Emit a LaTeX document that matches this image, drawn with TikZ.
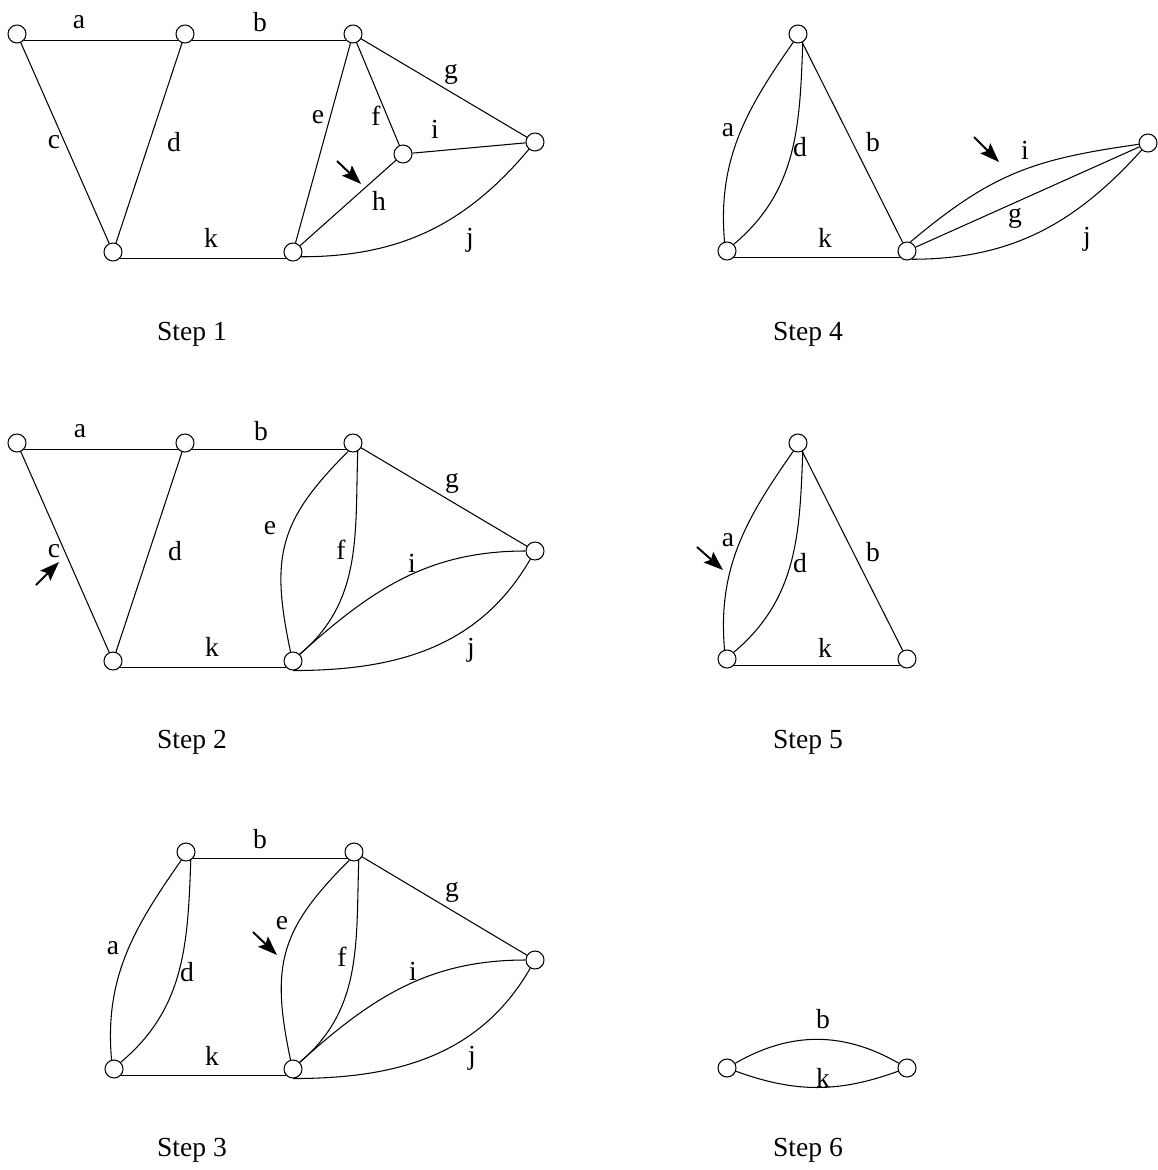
\documentclass[tikz,border=0pt]{standalone}
\usepackage{fontspec}
\setmainfont{Liberation Serif}
\usetikzlibrary{arrows.meta}

\begin{document}
\begin{tikzpicture}[
    x=0.02cm, y=0.02cm,
    vtx/.style={circle, draw, fill=white, line width=0.6pt, minimum size=0.36cm, inner sep=0pt},
    wire/.style={line width=0.6pt},
    larc/.style={out=235, in=95},
    earc/.style={out=225, in=102, looseness=1.2},
    rarc/.style={out=268, in=40},
    lbl/.style={inner sep=0pt, font=\fontsize{15.7}{18}\selectfont},
    pointer/.style={-{Stealth[length=11pt, width=8pt, inset=2pt]}, line width=1.1pt}
]
\useasboundingbox (0,0) rectangle (1157,-1170);

% Step 1
\node[vtx] (s1p) at (17,-34) {};
\node[vtx] (s1q) at (185,-34) {};
\node[vtx] (s1r) at (353,-34) {};
\node[vtx] (s1s) at (535,-142) {};
\node[vtx] (s1m) at (403,-154) {};
\node[vtx] (s1u) at (113,-252) {};
\node[vtx] (s1v) at (293,-252) {};

\draw[wire] (s1p.-40) -- (s1q.-140);
\draw[wire] (s1q.-40) -- (s1r.-140);
\draw[wire] (s1u.-40) -- (s1v.-140);
\foreach \i/\j in {s1p/s1u,s1q/s1u,s1r/s1v,s1r/s1m,s1r/s1s,s1m/s1s,s1m/s1v}{\draw[wire] (\i) -- (\j);}
\draw[wire] (s1v.-30) to[out=0, in=230] (s1s);

\node[lbl] (l1a) at (79,-22) {a};
\node[lbl] (l1b) at (260,-22) {b};
\node[lbl] (l1c) at (54,-142) {c};
\node[lbl] (l1d) at (174,-142) {d};
\node[lbl] (l1e) at (318,-117) {e};
\node[lbl] (l1f) at (376,-116) {f};
\node[lbl] (l1g) at (451,-74) {g};
\node[lbl] (l1i) at (435,-129) {i};
\node[lbl] (l1h) at (379,-201) {h};
\node[lbl] (l1j) at (470,-240) {j};
\node[lbl] (l1k) at (211,-238) {k};

\coordinate (t1) at (337,-161);
\coordinate (h1) at (361,-184);
\draw[pointer] (t1) -- (h1);

\node[lbl] (cap1) at (192,-334) {Step 1};

% Step 2
\node[vtx] (s2p) at (17,-443) {};
\node[vtx] (s2q) at (185,-443) {};
\node[vtx] (s2r) at (353,-443) {};
\node[vtx] (s2s) at (535,-551) {};
\node[vtx] (s2u) at (113,-661) {};
\node[vtx] (s2v) at (293,-661) {};

\draw[wire] (s2p.-40) -- (s2q.-140);
\draw[wire] (s2q.-40) -- (s2r.-140);
\draw[wire] (s2u.-40) -- (s2v.-140);
\foreach \i/\j in {s2p/s2u,s2q/s2u,s2r/s2s}{\draw[wire] (\i) -- (\j);}
\draw[wire] (s2r.-120) to[earc] (s2v.105);
\draw[wire] (s2r.-60) to[rarc] (s2v.45);
\draw[wire] (s2v.45) to[out=42, in=180] (s2s);
\draw[wire] (s2v.south) to[out=0, in=240] (s2s);

\node[lbl] (l2a) at (80,-431) {a};
\node[lbl] (l2b) at (261,-431) {b};
\node[lbl] (l2c) at (54,-551) {c};
\node[lbl] (l2d) at (175,-551) {d};
\node[lbl] (l2e) at (270,-528) {e};
\node[lbl] (l2f) at (341,-550) {f};
\node[lbl] (l2g) at (452,-483) {g};
\node[lbl] (l2i) at (412,-563) {i};
\node[lbl] (l2j) at (471,-650) {j};
\node[lbl] (l2k) at (212,-647) {k};

\coordinate (t2) at (36,-585);
\coordinate (h2) at (59,-562);
\draw[pointer] (t2) -- (h2);

\node[lbl] (cap2) at (192,-742) {Step 2};

% Step 3
\node[vtx] (s3q) at (186,-852) {};
\node[vtx] (s3r) at (354,-852) {};
\node[vtx] (s3s) at (535,-960) {};
\node[vtx] (s3u) at (114,-1069) {};
\node[vtx] (s3v) at (293,-1069) {};

\draw[wire] (s3q.-40) -- (s3r.-140);
\draw[wire] (s3u.-40) -- (s3v.-140);
\draw[wire] (s3r) -- (s3s);
\draw[wire] (s3q.-120) to[larc] (s3u.105);
\draw[wire] (s3q.-60) to[rarc] (s3u.45);
\draw[wire] (s3r.-120) to[earc] (s3v.105);
\draw[wire] (s3r.-60) to[rarc] (s3v.45);
\draw[wire] (s3v.45) to[out=42, in=180] (s3s);
\draw[wire] (s3v.south) to[out=0, in=240] (s3s);

\node[lbl] (l3a) at (113,-948) {a};
\node[lbl] (l3b) at (260,-839) {b};
\node[lbl] (l3d) at (187,-972) {d};
\node[lbl] (l3e) at (282,-923) {e};
\node[lbl] (l3f) at (342,-957) {f};
\node[lbl] (l3g) at (452,-892) {g};
\node[lbl] (l3i) at (413,-971) {i};
\node[lbl] (l3j) at (472,-1058) {j};
\node[lbl] (l3k) at (212,-1056) {k};

\coordinate (t3) at (253,-932);
\coordinate (h3) at (277,-955);
\draw[pointer] (t3) -- (h3);

\node[lbl] (cap3) at (192,-1150) {Step 3};

% Step 4
\node[vtx] (s4t) at (798,-34) {};
\node[vtx] (s4u) at (727,-251) {};
\node[vtx] (s4v) at (907,-251) {};
\node[vtx] (s4w) at (1148,-143) {};

\draw[wire] (s4u.-40) -- (s4v.-140);
\draw[wire] (s4t) -- (s4v);
\draw[wire] (s4v) -- (s4w);
\draw[wire] (s4t.-120) to[larc] (s4u.105);
\draw[wire] (s4t.-60) to[rarc] (s4u.45);
\draw[wire] (s4v.70) to[out=40, in=188, looseness=1.1] (s4w);
\draw[wire] (s4v.-60) to[out=0, in=228] (s4w);

\node[lbl] (l4a) at (728,-130) {a};
\node[lbl] (l4d) at (800,-147) {d};
\node[lbl] (l4b) at (873,-142) {b};
\node[lbl] (l4k) at (825,-238) {k};
\node[lbl] (l4i) at (1025,-150) {i};
\node[lbl] (l4g) at (1015,-218) {g};
\node[lbl] (l4j) at (1087,-239) {j};

\coordinate (t4) at (974,-137);
\coordinate (h4) at (999,-162);
\draw[pointer] (t4) -- (h4);

\node[lbl] (cap4) at (808,-334) {Step 4};

% Step 5
\node[vtx] (s5t) at (798,-443) {};
\node[vtx] (s5u) at (727,-659) {};
\node[vtx] (s5v) at (907,-659) {};

\draw[wire] (s5u.-40) -- (s5v.-140);
\draw[wire] (s5t) -- (s5v);
\draw[wire] (s5t.-120) to[larc] (s5u.105);
\draw[wire] (s5t.-60) to[rarc] (s5u.45);

\node[lbl] (l5a) at (728,-540) {a};
\node[lbl] (l5d) at (800,-563) {d};
\node[lbl] (l5b) at (873,-552) {b};
\node[lbl] (l5k) at (825,-648) {k};

\coordinate (t5) at (697,-547);
\coordinate (h5) at (723,-570);
\draw[pointer] (t5) -- (h5);

\node[lbl] (cap5) at (808,-742) {Step 5};

% Step 6
\node[vtx] (s6u) at (727,-1068) {};
\node[vtx] (s6v) at (907,-1068) {};

\draw[wire] (s6u) to[bend left=30] (s6v);
\draw[wire] (s6u) to[bend right=20] (s6v);

\node[lbl] (l6b) at (823,-1019) {b};
\node[lbl] (l6k) at (823,-1078) {k};

\node[lbl] (cap6) at (808,-1150) {Step 6};

\end{tikzpicture}
\end{document}
